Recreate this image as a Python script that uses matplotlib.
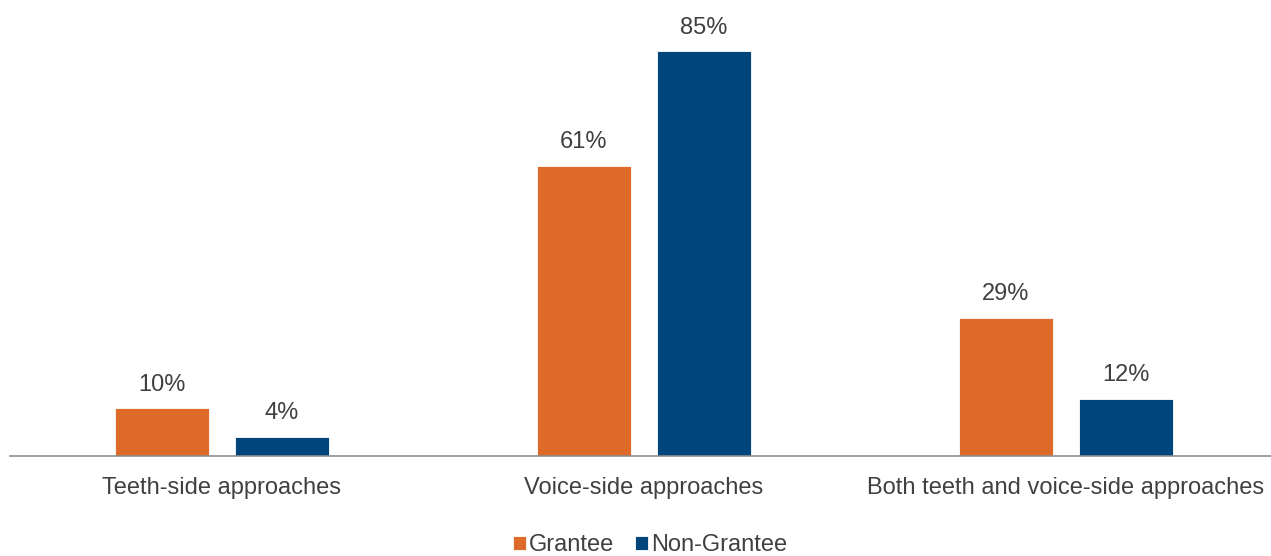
import matplotlib
matplotlib.use('Agg')
import matplotlib.pyplot as plt
import numpy as np

# data
categories = ['Teeth-side approaches', 'Voice-side approaches',
              'Both teeth and voice-side approaches']
grantee = [10, 61, 29]
non_grantee = [4, 85, 12]
series_names = ['Grantee', 'Non-Grantee']

ORANGE = '#DE6A2A'
NAVY = '#00467C'
TXT = '#404040'
FS = 17

plt.rcParams['font.family'] = ['Liberation Sans', 'DejaVu Sans']

fig = plt.figure(figsize=(12.71, 5.56), dpi=100)
fig.patch.set_facecolor('white')
ax = fig.add_axes([10/1271, 1-456/556, 1261/1271, 456/556])

x = np.arange(len(categories))
w = 94/422
off = 60/422
b1 = ax.bar(x - off, grantee, w, color=ORANGE, edgecolor='white', lw=0.6, label=series_names[0])
b2 = ax.bar(x + off, non_grantee, w, color=NAVY, edgecolor='white', lw=0.6, label=series_names[1])

for bars, vals in [(b1, grantee), (b2, non_grantee)]:
    for r, v in zip(bars, vals):
        ax.annotate(f'{v}%', (r.get_x() + r.get_width()/2, v),
                    xytext=(0, 9), textcoords='offset points',
                    ha='center', va='bottom', fontsize=FS, color=TXT)

ax.set_xlim((10-222)/422, (1271-222)/422)
ax.set_ylim(0, 456/4.76)
ax.set_xticks(x)
ax.set_xticklabels(categories, fontsize=FS, color=TXT)
ax.tick_params(axis='x', length=0, pad=15)
ax.set_yticks([])
for s in ['top', 'right', 'left']:
    ax.spines[s].set_visible(False)
ax.spines['bottom'].set_color('#8C8C8C')
ax.spines['bottom'].set_linewidth(1.2)

leg = fig.legend(handles=[b1, b2], loc='center', bbox_to_anchor=(650/1271, 1-545/556),
                 ncol=2, frameon=False, fontsize=FS, handlelength=0.55, handleheight=0.55,
                 handletextpad=0.15, columnspacing=0.85, borderpad=0)
for t in leg.get_texts():
    t.set_color(TXT)

fig.savefig('out.png', dpi=100, facecolor='white')
